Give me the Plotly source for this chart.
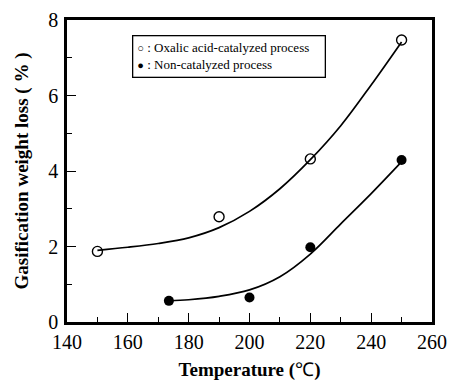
import plotly.graph_objects as go

# measured points
temp_oxalic = [150, 190, 220, 250]
loss_oxalic = [1.87, 2.79, 4.32, 7.47]
temp_non = [173.5, 200, 220, 250]
loss_non = [0.56, 0.65, 1.98, 4.29]

# fitted curves
fit_temp_oxalic = [150, 160, 170, 180, 190, 200, 210, 220, 230, 240, 250]
fit_loss_oxalic = [1.9, 1.98, 2.08, 2.23, 2.5, 2.93, 3.53, 4.3, 5.2, 6.28, 7.42]
fit_temp_non = [173.5, 180, 190, 200, 210, 220, 230, 240, 249.5]
fit_loss_non = [0.56, 0.59, 0.68, 0.85, 1.2, 1.8, 2.6, 3.4, 4.2]

x_ticks = [140, 160, 180, 200, 220, 240, 260]
y_ticks = [0, 2, 4, 6, 8]

legend_labels = [": Oxalic acid-catalyzed process", ": Non-catalyzed process"]
legend_glyphs = ["○", "●"]

FONT = "Liberation Serif"

fig = go.Figure()
for tx, ly in [(fit_temp_oxalic, fit_loss_oxalic), (fit_temp_non, fit_loss_non)]:
    fig.add_trace(go.Scatter(x=tx, y=ly, mode="lines",
                             line=dict(color="black", width=1.7, shape="spline", smoothing=1.0),
                             showlegend=False, hoverinfo="skip"))
fig.add_trace(go.Scatter(x=temp_oxalic, y=loss_oxalic, mode="markers",
                         showlegend=False,
                         marker=dict(symbol="circle-open", size=10, color="black",
                                     line=dict(width=1.4, color="black"))))
fig.add_trace(go.Scatter(x=temp_non, y=loss_non, mode="markers",
                         showlegend=False,
                         marker=dict(symbol="circle", size=10, color="black")))

legend_text = "<br>".join(
    f"<span style='font-size:11px'><b>{g}</b></span> {t}" for g, t in zip(legend_glyphs, legend_labels)
)
fig.add_annotation(
    x=0.178, y=0.95, xref="paper", yref="paper", xanchor="left", yanchor="top",
    text=legend_text, showarrow=False, align="left",
    font=dict(family=FONT, size=13, color="black"),
    bordercolor="black", borderwidth=1.3, borderpad=4, bgcolor="white",
    width=183,
)

fig.update_layout(
    width=451, height=381,
    margin=dict(l=67, r=19, t=20, b=59, autoexpand=False),
    paper_bgcolor="white", plot_bgcolor="white",
    font=dict(family=FONT, color="black", size=20),
    showlegend=False,
    xaxis=dict(range=[140, 260], tickvals=x_ticks, ticks="inside", ticklen=9,
               tickwidth=1.3, tickcolor="black", automargin=False,
               minor=dict(dtick=10, ticks="inside", ticklen=5, tickwidth=1.2, tickcolor="black"),
               showline=True, linecolor="black", linewidth=2.5, mirror=True,
               showgrid=False, zeroline=False,
               title=dict(text="<b>Temperature (</b>℃<b>)</b>", font=dict(size=19))),
    yaxis=dict(range=[0, 8], tickvals=y_ticks, ticks="inside", ticklen=9,
               tickwidth=1.3, tickcolor="black", automargin=False,
               minor=dict(dtick=1, ticks="inside", ticklen=5, tickwidth=1.2, tickcolor="black"),
               showline=True, linecolor="black", linewidth=2.5, mirror=True,
               showgrid=False, zeroline=False, ticklabelstandoff=2,
               title=dict(text="<b>Gasification weight loss ( % )</b>", font=dict(size=19))),
)

fig.write_html("out.html")
